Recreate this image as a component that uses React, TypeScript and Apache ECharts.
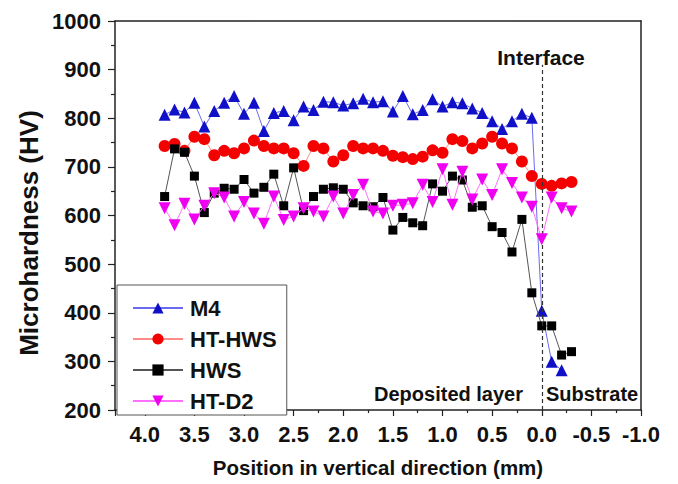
import React, { useEffect, useRef } from "react";
import * as echarts from "echarts";

// Positions (mm), 3.8 down to -0.3
const positions = [3.8, 3.7, 3.6, 3.5, 3.4, 3.3, 3.2, 3.1, 3.0, 2.9, 2.8, 2.7, 2.6, 2.5, 2.4, 2.3, 2.2, 2.1, 2.0, 1.9, 1.8, 1.7, 1.6, 1.5, 1.4, 1.3, 1.2, 1.1, 1.0, 0.9, 0.8, 0.7, 0.6, 0.5, 0.4, 0.3, 0.2, 0.1, 0.0, -0.1, -0.2, -0.3];

const m4 = [807, 818, 812, 832, 783, 815, 832, 846, 809, 832, 774, 811, 815, 796, 824, 817, 834, 833, 826, 831, 840, 833, 835, 814, 846, 808, 817, 839, 824, 833, 831, 820, 811, 794, 778, 794, 809, 801, 404, 299, 282];
const htHws = [743, 747, 733, 762, 757, 724, 733, 728, 738, 754, 743, 738, 738, 728, 702, 743, 738, 711, 724, 743, 738, 738, 733, 723, 720, 716, 721, 734, 729, 757, 753, 738, 748, 762, 748, 738, 711, 681, 665, 661, 666, 669];
const hws = [639, 737, 730, 681, 606, 646, 656, 654, 674, 646, 658, 685, 620, 698, 610, 639, 654, 657, 654, 626, 620, 618, 637, 570, 596, 585, 579, 665, 650, 681, 673, 617, 620, 577, 565, 525, 592, 441, 373, 373, 313, 320];
const htD2 = [615, 580, 624, 592, 620, 646, 637, 598, 628, 604, 583, 639, 591, 598, 615, 608, 598, 639, 604, 642, 663, 608, 604, 620, 622, 625, 663, 628, 695, 622, 690, 633, 674, 642, 695, 667, 637, 618, 551, 637, 615, 608];

const seriesNames = ["M4", "HT-HWS", "HWS", "HT-D2"];
const xTickMin = -1.0;
const xTickMax = 4.3;
const yMin = 200;
const yMax = 1000;
const interfaceX = 0.0;
const interfaceTop = 910;

const FONT = "'Liberation Sans', Arial, Helvetica, sans-serif";

function zip(ys: number[]) {
  return ys.map((y, i) => [positions[i], y]);
}

export default function App() {
  const ref = useRef<HTMLDivElement>(null);
  useEffect(() => {
    if (!ref.current) return;
    const chart = echarts.init(ref.current, null, { renderer: "svg" });
    const axisColor = "#222";
    const option: any = {
      animation: false,
      backgroundColor: "#fff",
      textStyle: { fontFamily: FONT },
      grid: { left: 115, right: 37, top: 21, bottom: 74, containLabel: false },
      legend: {
        orient: "vertical",
        left: 117,
        top: 285,
        data: seriesNames,
        itemWidth: 50,
        itemHeight: 14,
        itemGap: 9,
        padding: [12, 10, 3, 15],
        borderColor: "#555",
        borderWidth: 1,
        backgroundColor: "#fff",
        textStyle: { fontSize: 22, fontWeight: "bold", color: "#111", lineHeight: 20, padding: [0, 0, 0, 2], fontFamily: FONT },
      },
      xAxis: [
        {
          type: "value",
          min: xTickMin,
          max: xTickMax,
          interval: 0.5,
          inverse: true,
          position: "bottom",
          name: "Position in vertical direction (mm)",
          nameLocation: "middle",
          nameGap: 47,
          nameTextStyle: { fontSize: 20.5, fontWeight: "bold", color: "#111", fontFamily: FONT },
          axisLine: { show: true, onZero: false, lineStyle: { color: axisColor, width: 1.5 } },
          axisTick: { show: true, inside: false, length: 6, lineStyle: { color: axisColor, width: 1.2 } },
          minorTick: { show: true, splitNumber: 2, length: 3, lineStyle: { color: axisColor, width: 1.2 } },
          axisLabel: {
            margin: 13,
            fontSize: 22,
            fontWeight: "bold",
            color: "#111",
            showMaxLabel: false,
            formatter: (v: number) => v.toFixed(1),
          },
          splitLine: { show: false },
        },
        {
          type: "value",
          min: xTickMin,
          max: xTickMax,
          inverse: true,
          position: "top",
          axisLine: { show: true, onZero: false, lineStyle: { color: axisColor, width: 1.5 } },
          axisTick: { show: false },
          axisLabel: { show: false },
          splitLine: { show: false },
        },
      ],
      yAxis: [
        {
          type: "value",
          min: yMin,
          max: yMax,
          interval: 100,
          position: "left",
          axisLine: { show: true, onZero: false, lineStyle: { color: axisColor, width: 1.5 } },
          axisTick: { show: true, inside: false, length: 7, lineStyle: { color: axisColor, width: 1.2 } },
          minorTick: { show: true, splitNumber: 2, length: 4, lineStyle: { color: axisColor, width: 1.2 } },
          axisLabel: { margin: 14, fontSize: 22, fontWeight: "bold", color: "#111", formatter: (v: number) => String(v) },
          splitLine: { show: false },
        },
        {
          type: "value",
          min: yMin,
          max: yMax,
          position: "right",
          axisLine: { show: true, onZero: false, lineStyle: { color: axisColor, width: 1.5 } },
          axisTick: { show: false },
          axisLabel: { show: false },
          splitLine: { show: false },
        },
      ],
      series: [
        {
          name: "M4",
          type: "line",
          data: zip(m4),
          symbol: "triangle",
          symbolSize: 12,
          itemStyle: { color: "#1010c8" },
          lineStyle: { color: "#6a6af0", width: 1 },
          markLine: {
            silent: true,
            symbol: ["none", "none"],
            label: { show: false },
            lineStyle: { color: "#333", type: [4, 3], width: 1.2 },
            data: [[{ coord: [interfaceX, yMin] }, { coord: [interfaceX, interfaceTop] }]],
          },
          z: 2,
        },
        {
          name: "HT-HWS",
          type: "line",
          data: zip(htHws),
          symbol: "circle",
          symbolSize: 12,
          itemStyle: { color: "#f40000" },
          lineStyle: { color: "#ff8a8a", width: 1 },
          z: 3,
        },
        {
          name: "HWS",
          type: "line",
          data: zip(hws),
          symbol: "rect",
          symbolSize: 9,
          itemStyle: { color: "#000" },
          lineStyle: { color: "#555", width: 1 },
          z: 4,
        },
        {
          name: "HT-D2",
          type: "line",
          data: zip(htD2),
          symbol: "triangle",
          symbolRotate: 180,
          symbolSize: 12,
          itemStyle: { color: "#f000f0" },
          lineStyle: { color: "#ff70ff", width: 1 },
          z: 5,
        },
      ],
      graphic: [
        {
          type: "text",
          x: 28.5,
          y: 233,
          rotation: Math.PI / 2,
          style: { text: "Microhardness (HV)", fontSize: 26, fontWeight: "bold", fontFamily: FONT, fill: "#111", align: "center", verticalAlign: "middle" },
        },
        {
          type: "text",
          x: 541,
          y: 57,
          style: { text: "Interface", fontSize: 21, fontWeight: "bold", fontFamily: FONT, fill: "#111", align: "center", verticalAlign: "middle" },
        },
        {
          type: "text",
          x: 523,
          y: 394,
          style: { text: "Deposited layer", fontSize: 20, fontWeight: "bold", fontFamily: FONT, fill: "#111", align: "right", verticalAlign: "middle" },
        },
        {
          type: "text",
          x: 546,
          y: 394,
          style: { text: "Substrate", fontSize: 20, fontWeight: "bold", fontFamily: FONT, fill: "#111", align: "left", verticalAlign: "middle" },
        },
      ],
    };
    chart.setOption(option);
    return () => chart.dispose();
  }, []);
  return (
    <div
      ref={ref}
      style={{ position: "fixed", left: 0, top: 0, width: 678, height: 484, background: "#fff" }}
    />
  );
}
